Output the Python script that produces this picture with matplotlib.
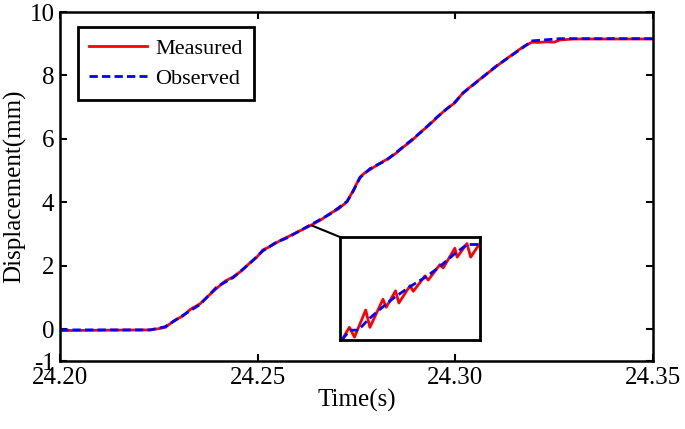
import matplotlib
matplotlib.use("Agg")
import matplotlib.pyplot as plt
from matplotlib.patches import ConnectionPatch

plt.rcParams['font.family'] = ['Liberation Serif', 'DejaVu Serif']
plt.rcParams['axes.unicode_minus'] = False

# Observed (blue dashed) trace
obs_t = [24.2000, 24.2228, 24.2266, 24.2311, 24.2354, 24.2397, 24.2438, 24.2481,
         24.2513, 24.2544, 24.2574, 24.2632, 24.2683, 24.2726, 24.2741, 24.2759,
         24.2784, 24.2827, 24.2868, 24.2911, 24.2954, 24.2999, 24.3019, 24.3105,
         24.3171, 24.3194, 24.3265, 24.3500]
obs_d = [-0.02, -0.02, 0.08, 0.44, 0.78, 1.34, 1.63, 2.09, 2.47, 2.72, 2.88, 3.28,
         3.63, 4.03, 4.34, 4.78, 5.06, 5.34, 5.75, 6.19, 6.69, 7.16, 7.44, 8.31,
         8.88, 9.09, 9.16, 9.16]

# Measured (red) trace
meas_t = [24.2000, 24.2100, 24.2228, 24.2250, 24.2266, 24.2290, 24.2311, 24.2330,
          24.2354, 24.2375, 24.2397, 24.2418, 24.2438, 24.2460, 24.2481, 24.2497,
          24.2513, 24.2530, 24.2544, 24.2560, 24.2574, 24.2600, 24.2632, 24.2660,
          24.2683, 24.2705, 24.2726, 24.2741, 24.2759, 24.2770, 24.2784, 24.2805,
          24.2827, 24.2848, 24.2868, 24.2890, 24.2911, 24.2933, 24.2954, 24.2975,
          24.2999, 24.3019, 24.3060, 24.3105, 24.3140, 24.3171, 24.3194, 24.3210,
          24.3230, 24.3250, 24.3265, 24.3300, 24.3500]
meas_d = [-0.04, -0.03, -0.02, 0.02, 0.06, 0.28, 0.42, 0.63, 0.80, 1.05, 1.30, 1.52,
          1.65, 1.85, 2.10, 2.26, 2.50, 2.60, 2.70, 2.82, 2.90, 3.06, 3.26, 3.45,
          3.65, 3.80, 4.02, 4.36, 4.80, 4.92, 5.03, 5.20, 5.36, 5.53, 5.74, 5.95,
          6.20, 6.43, 6.68, 6.92, 7.14, 7.45, 7.86, 8.30, 8.62, 8.90, 9.05, 9.04,
          9.06, 9.05, 9.12, 9.15, 9.15]

# zoomed detail shown in the inset
zoom_meas_t = [24.26254, 24.26270, 24.26281, 24.26305, 24.26314, 24.26342, 24.26349,
               24.26369, 24.26376, 24.26400, 24.26407, 24.26432, 24.26439, 24.26464,
               24.26471, 24.26496, 24.26501, 24.26522, 24.26530, 24.26550]
zoom_meas_d = [3.200, 3.227, 3.206, 3.264, 3.227, 3.287, 3.270, 3.305, 3.279, 3.316,
               3.304, 3.337, 3.328, 3.361, 3.354, 3.396, 3.377, 3.406, 3.377, 3.407]
zoom_obs_t = [24.26254, 24.26271, 24.26289, 24.26311, 24.26336, 24.26364, 24.26400,
              24.26436, 24.26464, 24.26493, 24.26522, 24.26546, 24.26550]
zoom_obs_d = [3.200, 3.221, 3.221, 3.244, 3.266, 3.289, 3.314, 3.336, 3.357, 3.382,
              3.404, 3.404, 3.413]

x_ticks = [24.20, 24.25, 24.30, 24.35]
x_labels = ['24.20', '24.25', '24.30', '24.35']
y_ticks = [-1, 0, 2, 4, 6, 8, 10]

fig = plt.figure(figsize=(6.85, 4.29), dpi=100)
ax = fig.add_axes([0.0876, 0.1585, 0.8657, 0.8135])

ax.plot(meas_t, meas_d, '-', color='red', linewidth=2, label='Measured')
ax.plot(obs_t, obs_d, '--', color='blue', linewidth=2, dashes=(3, 1.5), label='Observed')

ax.set_xlim(24.20, 24.35)
ax.set_ylim(-1, 10)
ax.set_xticks(x_ticks)
ax.set_xticklabels(x_labels)
ax.set_yticks(y_ticks)
ax.tick_params(direction='in', length=5, width=1.5, labelsize=18,
               top=True, right=True, pad=4)
for s in ax.spines.values():
    s.set_linewidth(1.8)
ax.set_xlabel('Time(s)', fontsize=18, labelpad=0)
ax.set_ylabel('Displacement(mm)', fontsize=18, labelpad=2)

leg = ax.legend(loc='upper left', bbox_to_anchor=(0.030, 0.957), borderaxespad=0,
                fontsize=16, fancybox=False, framealpha=1, handlelength=2.6,
                handletextpad=0.4, labelspacing=0.45, borderpad=0.5)
leg.get_frame().set_edgecolor('black')
leg.get_frame().set_linewidth(2)

# inset
axin = fig.add_axes([0.4964, 0.2075, 0.2044, 0.240])
axin.plot(zoom_meas_t, zoom_meas_d, '-', color='red', linewidth=2)
axin.plot(zoom_obs_t, zoom_obs_d, '--', color='blue', linewidth=2, dashes=(3, 1.5))
axin.set_xlim(24.2625, 24.2655)
axin.set_ylim(3.20, 3.42)
axin.set_xticks([])
axin.set_yticks([])
for s in axin.spines.values():
    s.set_linewidth(2)

con = ConnectionPatch(xyA=(24.2637, 3.27), coordsA=ax.transData,
                      xyB=(0, 1), coordsB=axin.transAxes,
                      color='black', linewidth=1.5)
fig.add_artist(con)

fig.savefig('out.png', dpi=100)
